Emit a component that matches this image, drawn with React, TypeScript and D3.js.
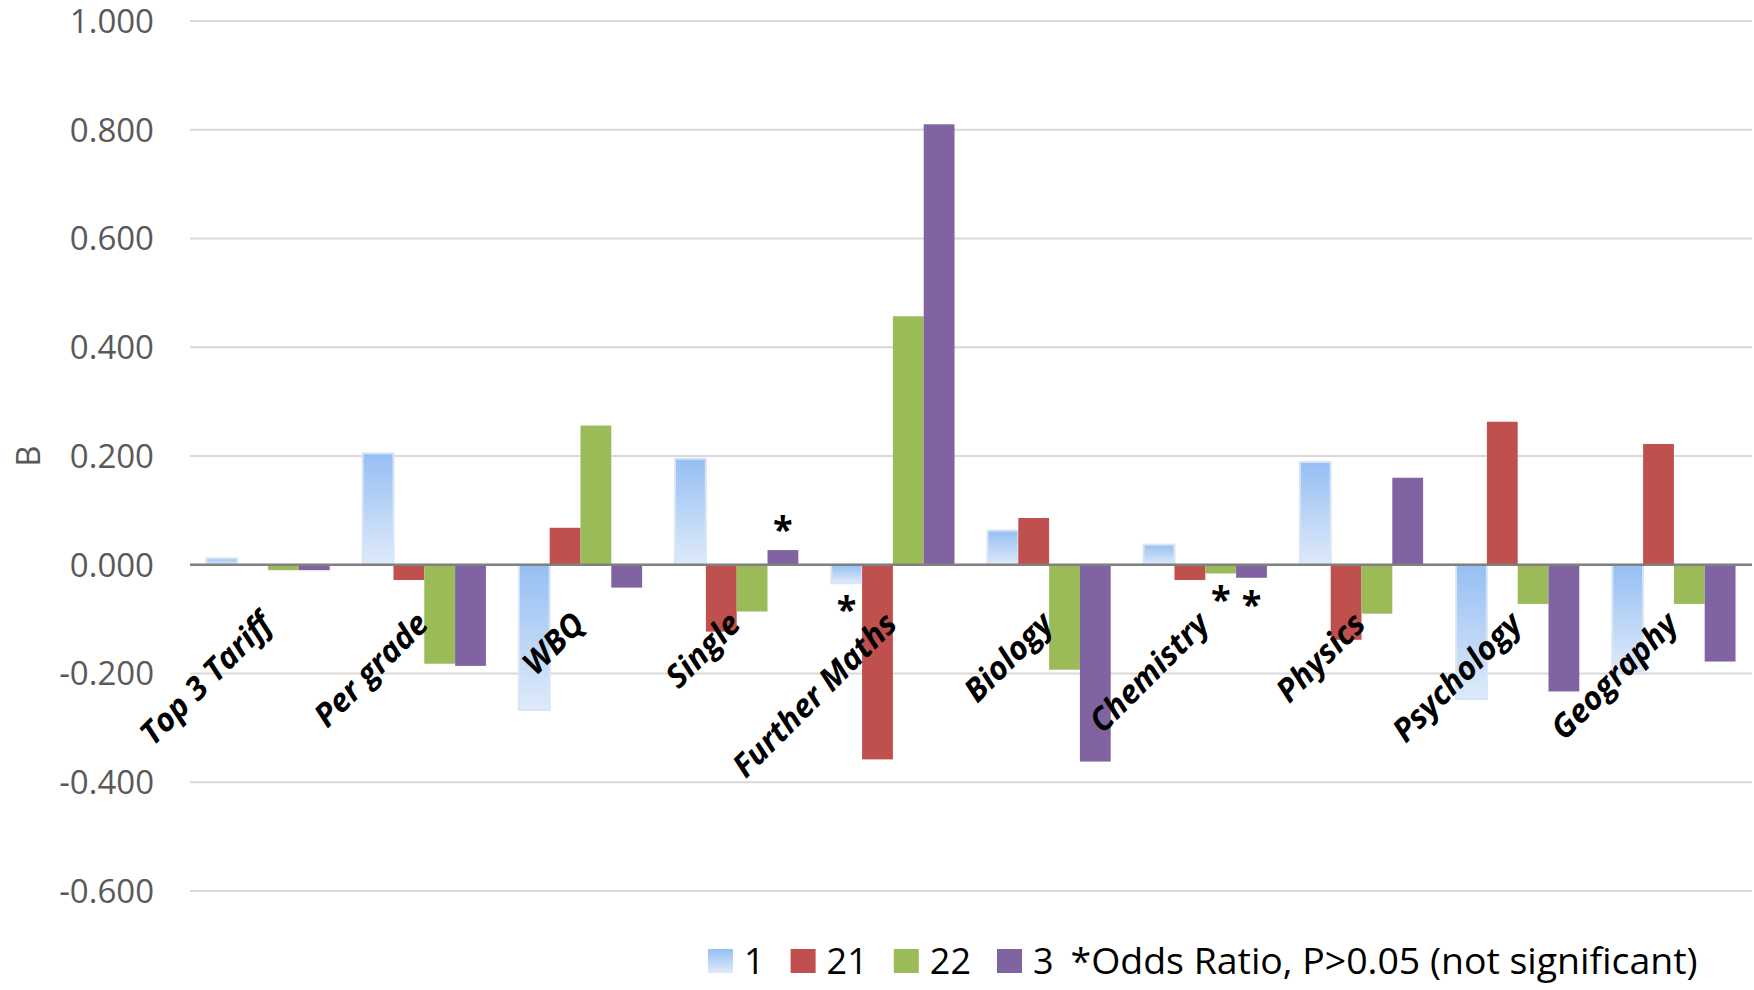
import React from "react";
import * as d3 from "d3";

// Regression coefficients (B) by qualification / subject, per student group
const categories = [
  "Top 3 Tariff",
  "Per grade",
  "WBQ",
  "Single",
  "Further Maths",
  "Biology",
  "Chemistry",
  "Physics",
  "Psychology",
  "Geography",
];
const seriesNames = ["1", "21", "22", "3"];

const group1 = [0.012, 0.205, -0.267, 0.195, -0.034, 0.063, 0.037, 0.189, -0.247, -0.197];
const group21 = [0.0, -0.028, 0.068, -0.123, -0.358, 0.086, -0.028, -0.138, 0.263, 0.222];
const group22 = [-0.01, -0.182, 0.256, -0.086, 0.457, -0.193, -0.016, -0.09, -0.072, -0.072];
const group3 = [-0.01, -0.186, -0.042, 0.027, 0.81, -0.362, -0.024, 0.16, -0.233, -0.178];

// Odds ratios that are not significant (P>0.05)
const notSignificant = [
  { category: "Single", series: "3" },
  { category: "Further Maths", series: "1" },
  { category: "Chemistry", series: "22" },
  { category: "Chemistry", series: "3" },
];

const yTicks = [1.0, 0.8, 0.6, 0.4, 0.2, 0.0, -0.2, -0.4, -0.6];
const yTitle = "B";
const footnote = "*Odds Ratio, P>0.05 (not significant)";

const seriesValues = [group1, group21, group22, group3];
const colors: Record<string, string> = {
  "1": "url(#blueGrad)",
  "21": "#c0504d",
  "22": "#9bbb59",
  "3": "#8064a2",
};

const W = 1754;
const H = 990;
const plot = { left: 190, right: 1752, top: 21, bottom: 891 };

export default function App() {
  const y = d3.scaleLinear().domain([-0.6, 1.0]).range([plot.bottom, plot.top]);
  const x0 = d3.scaleBand<string>().domain(categories).range([plot.left, plot.right]);
  const x1 = d3
    .scaleBand<string>()
    .domain(seriesNames)
    .range([0, x0.bandwidth()])
    .paddingInner(0)
    .paddingOuter(0.535);

  const bars = seriesNames.flatMap((s, si) =>
    categories.map((c, ci) => ({ s, c, v: seriesValues[si][ci] }))
  );

  // plain hyphen for negatives
  const fmt = (v: number) => d3.format(".3f")(v).replace("\u2212", "-");
  const font = "'Open Sans', sans-serif";

  // legend layout
  const digitW = 20.6;
  let lx = 708;
  const legendItems = seriesNames.map((s) => {
    const item = { s, swatchX: lx, textX: lx + 36 };
    lx = lx + 36 + s.length * digitW + 26;
    return item;
  });
  const noteX = lx - 9;

  return (
    <svg
      width={W}
      height={H}
      style={{ position: "fixed", left: 0, top: 0, background: "#fff" }}
    >
      <defs>
        <linearGradient id="blueGrad" x1="0" y1="0" x2="0" y2="1">
          <stop offset="0" stopColor="#95bff3" />
          <stop offset="1" stopColor="#dfeaf9" />
        </linearGradient>
      </defs>
      <rect x={0} y={0} width={W} height={H} fill="#fff" />

      {/* gridlines */}
      {yTicks.map((t) => (
        <line
          key={"g" + t}
          x1={plot.left}
          x2={plot.right}
          y1={y(t)}
          y2={y(t)}
          stroke="#d9d9d9"
          strokeWidth={2}
        />
      ))}

      {/* y tick labels */}
      {yTicks.map((t) => (
        <text
          key={"t" + t}
          x={154}
          y={y(t)}
          dy="0.36em"
          textAnchor="end"
          fontFamily={font}
          fontSize={33}
          fill="#595959"
        >
          {fmt(t)}
        </text>
      ))}

      <text
        transform={`translate(40, ${(plot.top + plot.bottom) / 2}) rotate(-90)`}
        textAnchor="middle"
        fontFamily={font}
        fontSize={33}
        fill="#595959"
      >
        {yTitle}
      </text>

      {/* bars */}
      {bars.map((b) => {
        const bx = (x0(b.c) as number) + (x1(b.s) as number);
        const y0 = y(0);
        const yv = y(b.v);
        const top = Math.min(y0, yv);
        const h = Math.abs(yv - y0);
        if (h <= 0) return null;
        return (
          <rect
            key={b.s + b.c}
            x={bx}
            y={top}
            width={x1.bandwidth()}
            height={h}
            fill={colors[b.s]}
            stroke={b.s === "1" ? "#d8e5f7" : "none"}
            strokeWidth={b.s === "1" ? 2 : 0}
          />
        );
      })}

      {/* zero axis */}
      <line
        x1={plot.left}
        x2={plot.right}
        y1={y(0)}
        y2={y(0)}
        stroke="#808080"
        strokeWidth={2.4}
      />

      {/* significance markers */}
      {notSignificant.map((m) => {
        const si = seriesNames.indexOf(m.series);
        const ci = categories.indexOf(m.category);
        const v = seriesValues[si][ci];
        const cx = (x0(m.category) as number) + (x1(m.series) as number) + x1.bandwidth() / 2;
        const cy = v >= 0 ? y(v) - 27 : y(v) + 20;
        return (
          <text
            key={"m" + m.category + m.series}
            x={cx}
            y={cy + 19}
            textAnchor="middle"
            fontFamily={font}
            fontWeight={700}
            fontSize={36}
            fill="#000"
          >
            *
          </text>
        );
      })}

      {/* category labels */}
      {categories.map((c) => {
        const cx = (x0(c) as number) + x0.bandwidth() / 2;
        return (
          <text
            key={"c" + c}
            transform={`translate(${cx + 6}, 626) rotate(-45)`}
            textAnchor="end"
            fontFamily={font}
            fontWeight={700}
            fontStyle="italic"
            fontSize={32}
            fill="#000"
          >
            {c}
          </text>
        );
      })}

      {/* legend */}
      {legendItems.map((it) => (
        <g key={"l" + it.s}>
          <rect x={it.swatchX} y={949} width={25} height={24} fill={colors[it.s]} />
          <text x={it.textX} y={974} fontFamily={font} fontSize={36} fill="#000">
            {it.s}
          </text>
        </g>
      ))}
      <text
        x={noteX}
        y={974}
        fontFamily={font}
        fontSize={36}
        fill="#000"
        textLength={627}
        lengthAdjust="spacingAndGlyphs"
      >
        {footnote}
      </text>
    </svg>
  );
}
